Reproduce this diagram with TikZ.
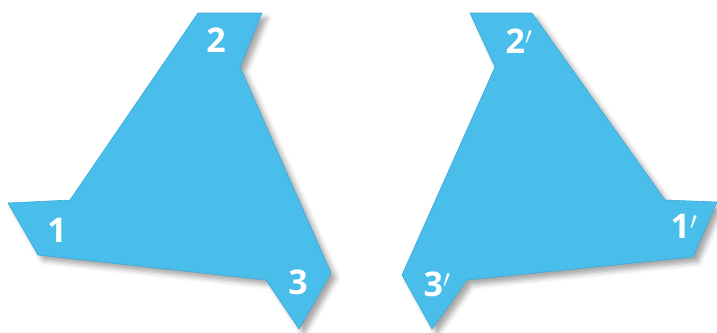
\documentclass[tikz,border=0pt]{standalone}
\usepackage{fontspec}
\setmainfont{Open Sans}
\usetikzlibrary{shadows.blur}
\definecolor{tile}{RGB}{74,190,234}
\definecolor{tileedge}{RGB}{60,170,215}
\tikzset{
  tileshape/.style={fill=tile, draw=tileedge, line width=0.6pt, line join=miter,
    blur shadow={shadow xshift=5pt, shadow yshift=-5pt, shadow blur radius=5pt, shadow opacity=35}},
  lab/.style={text=white, font=\fontsize{34}{34}\selectfont\bfseries, inner sep=0pt}
}
\newcommand{\pr}{\ensuremath{{}^{\prime}}}
\begin{document}
\begin{tikzpicture}[x=1pt,y=-1pt]
\useasboundingbox (0,0) rectangle (717,332);
% left tile
\path[tileshape] (198,13) -- (262,13) -- (240,67) -- (331,273) -- (299,329)
  -- (266,280) -- (38,255) -- (8,203) -- (70,200) -- cycle;
% right tile
\path[tileshape] (470,13) -- (532,13) -- (665,200) -- (717,202) -- (693,257)
  -- (467,280) -- (432,329) -- (402,275) -- (495,67) -- cycle;
\node[lab] (n2) at (216,40) {2};
\node[lab] (n1) at (57,230) {1};
\node[lab] (n3) at (298,282) {3};
\node[lab] (m2) at (519,41) {2\pr};
\node[lab] (m1) at (684,226) {1\pr};
\node[lab] (m3) at (437,284) {3\pr};
\end{tikzpicture}
\end{document}
